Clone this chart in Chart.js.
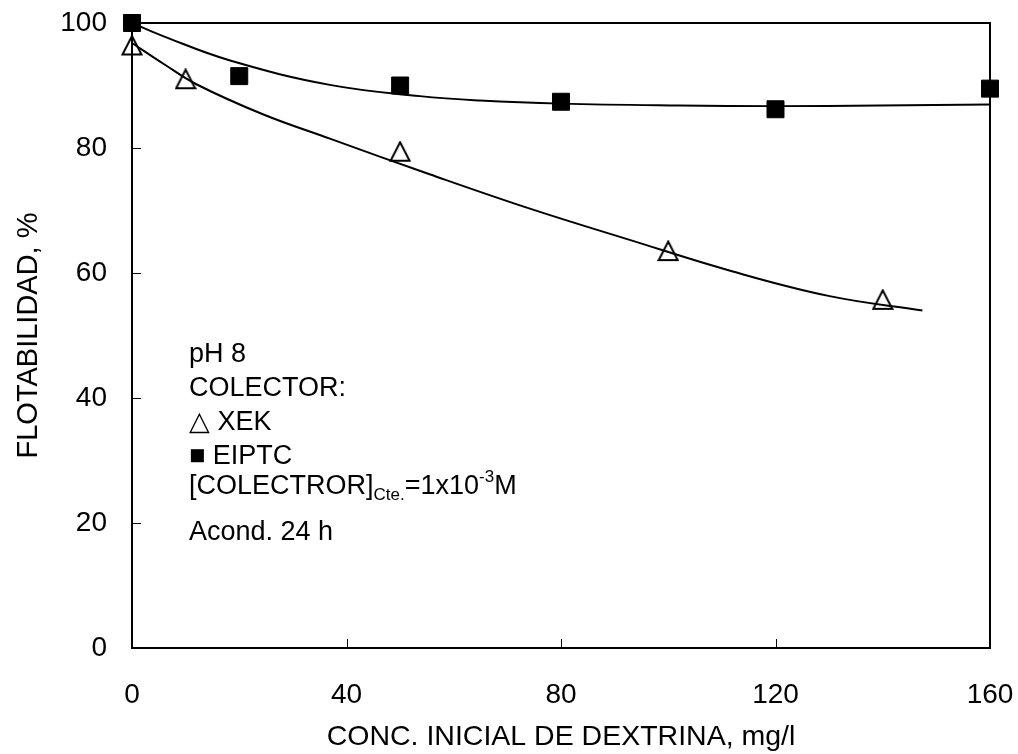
<!DOCTYPE html>
<html>
<head>
<meta charset="utf-8">
<script src="https://cdn.jsdelivr.net/npm/chart.js@4/dist/chart.umd.min.js"></script>
<style>
	body { margin: 0; background: #fff; }
	#wrap { width: 1018px; height: 754px; }
</style>
</head>
<body>
<div id="wrap"><canvas id="flotChart" width="1018" height="754"></canvas></div>
<script>
const xTicks = [0, 40, 80, 120, 160];
const yTicks = [0, 20, 40, 60, 80, 100];

// measured points
const xekX = [0, 10, 50, 100, 140];
const xekY = [96.4, 91.0, 79.4, 63.5, 55.7];
const eiptcX = [0, 20, 50, 80, 120, 160];
const eiptcY = [100, 91.5, 90.0, 87.4, 86.2, 89.5];

// trend curves
const xekFitX = [0, 6, 12, 24.4, 36.9, 55.5, 74.2, 92.8, 111.4, 130.1, 147.4];
const xekFitY = [96.8, 93.4, 90.2, 85.4, 81.5, 75.8, 70.3, 65.3, 60.4, 56.3, 54.0];
const eiptcFitX = [0, 5.8, 18.3, 36.9, 53.7, 64.9, 80, 102, 120, 139.4, 160];
const eiptcFitY = [100, 97.9, 94.0, 90.1, 88.3, 87.6, 87.1, 86.8, 86.7, 86.8, 86.95];

const noteLines = ["pH 8", "COLECTOR:", "\u25B3 XEK", "\u25A0 EIPTC"];

const FONT = "'Liberation Sans', Arial, sans-serif";

function toPoints(xs, ys) {
	return xs.map((x, i) => ({ x: x, y: ys[i] }));
}

// hollow triangle marker
function makeTriangle() {
	const c = document.createElement("canvas");
	c.width = 22;
	c.height = 22;
	const g = c.getContext("2d");
	g.strokeStyle = "#000";
	g.lineWidth = 2;
	g.beginPath();
	g.moveTo(11, 1.5);
	g.lineTo(1.5, 20);
	g.lineTo(20.5, 20);
	g.closePath();
	g.stroke();
	return c;
}

const frame = {
	id: "frame",
	beforeDatasetsDraw(chart) {
		const { ctx, chartArea } = chart;
		const xs = chart.scales.x;
		const ys = chart.scales.y;
		ctx.save();
		ctx.strokeStyle = "#000";
		ctx.lineWidth = 1;
		xTicks.forEach((v) => {
			const px = Math.round(xs.getPixelForValue(v)) + 0.5;
			ctx.beginPath();
			ctx.moveTo(px, chartArea.bottom);
			ctx.lineTo(px, chartArea.bottom - 9);
			ctx.stroke();
		});
		yTicks.forEach((v) => {
			const py = Math.round(ys.getPixelForValue(v)) + 0.5;
			ctx.beginPath();
			ctx.moveTo(chartArea.left, py);
			ctx.lineTo(chartArea.left + 9, py);
			ctx.stroke();
		});
		ctx.lineWidth = 2;
		ctx.strokeRect(chartArea.left, chartArea.top, chartArea.right - chartArea.left, chartArea.bottom - chartArea.top);
		ctx.restore();
	},
	afterDraw(chart) {
		const { ctx } = chart;
		const x0 = 189;
		ctx.save();
		ctx.fillStyle = "#000";
		ctx.textBaseline = "middle";
		ctx.font = "27px " + FONT;
		const rows = [355, 389, 423, 457];
		noteLines.forEach((t, i) => ctx.fillText(t, x0, rows[i]));

		// [COLECTROR]Cte.=1x10-3M
		let x = x0;
		const y = 487;
		ctx.font = "27px " + FONT;
		ctx.fillText("[COLECTROR]", x, y);
		x += ctx.measureText("[COLECTROR]").width;
		ctx.font = "17px " + FONT;
		ctx.fillText("Cte.", x, y + 8);
		x += ctx.measureText("Cte.").width;
		ctx.font = "27px " + FONT;
		ctx.fillText("=1x10", x, y);
		x += ctx.measureText("=1x10").width;
		ctx.font = "17px " + FONT;
		ctx.fillText("-3", x, y - 10);
		x += ctx.measureText("-3").width;
		ctx.font = "27px " + FONT;
		ctx.fillText("M", x, y);

		ctx.fillText("Acond. 24 h", x0, 533);
		ctx.restore();
	},
};

const ctx = document.getElementById("flotChart").getContext("2d");

new Chart(ctx, {
	type: "scatter",
	data: {
		datasets: [
			{
				label: "XEK fit",
				data: toPoints(xekFitX, xekFitY),
				showLine: true,
				borderColor: "#000",
				borderWidth: 2,
				pointRadius: 0,
				tension: 0.4,
				clip: false,
			},
			{
				label: "EIPTC fit",
				data: toPoints(eiptcFitX, eiptcFitY),
				showLine: true,
				borderColor: "#000",
				borderWidth: 2,
				pointRadius: 0,
				tension: 0.4,
				clip: false,
			},
			{
				label: "XEK",
				data: toPoints(xekX, xekY),
				showLine: false,
				pointStyle: makeTriangle(),
				clip: false,
			},
			{
				label: "EIPTC",
				data: toPoints(eiptcX, eiptcY),
				showLine: false,
				pointStyle: "rect",
				pointRadius: 12,
				pointBackgroundColor: "#000",
				pointBorderColor: "#000",
				pointBorderWidth: 1,
				clip: false,
			},
		],
	},
	options: {
		responsive: false,
		animation: false,
		layout: { padding: { top: 23, right: 28, left: 0, bottom: 0 } },
		plugins: {
			legend: { display: false },
			tooltip: { enabled: false },
		},
		scales: {
			x: {
				type: "linear",
				min: 0,
				max: 160,
				afterFit: (scale) => {
					scale.height = 106;
					scale.paddingLeft = 0;
					scale.paddingRight = 0;
				},
				afterBuildTicks: (scale) => { scale.ticks = xTicks.map((v) => ({ value: v })); },
				grid: { display: false, drawTicks: false },
				border: { display: false },
				ticks: {
					color: "#000",
					padding: 30,
					font: { size: 28, family: FONT },
				},
				title: {
					display: true,
					text: "CONC. INICIAL DE DEXTRINA, mg/l",
					color: "#000",
					padding: { top: 0, bottom: 0 },
					font: { size: 28.5, family: FONT },
				},
			},
			y: {
				type: "linear",
				min: 0,
				max: 100,
				afterFit: (scale) => {
					scale.width = 132;
					scale.paddingTop = 0;
					scale.paddingBottom = 0;
				},
				afterBuildTicks: (scale) => { scale.ticks = yTicks.map((v) => ({ value: v })); },
				grid: { display: false, drawTicks: false },
				border: { display: false },
				ticks: {
					color: "#000",
					padding: 25,
					font: { size: 28, family: FONT },
				},
				title: {
					display: true,
					text: "FLOTABILIDAD, %",
					color: "#000",
					padding: { top: 12, bottom: 0 },
					font: { size: 29, family: FONT },
				},
			},
		},
	},
	plugins: [frame],
});
</script>
</body>
</html>
